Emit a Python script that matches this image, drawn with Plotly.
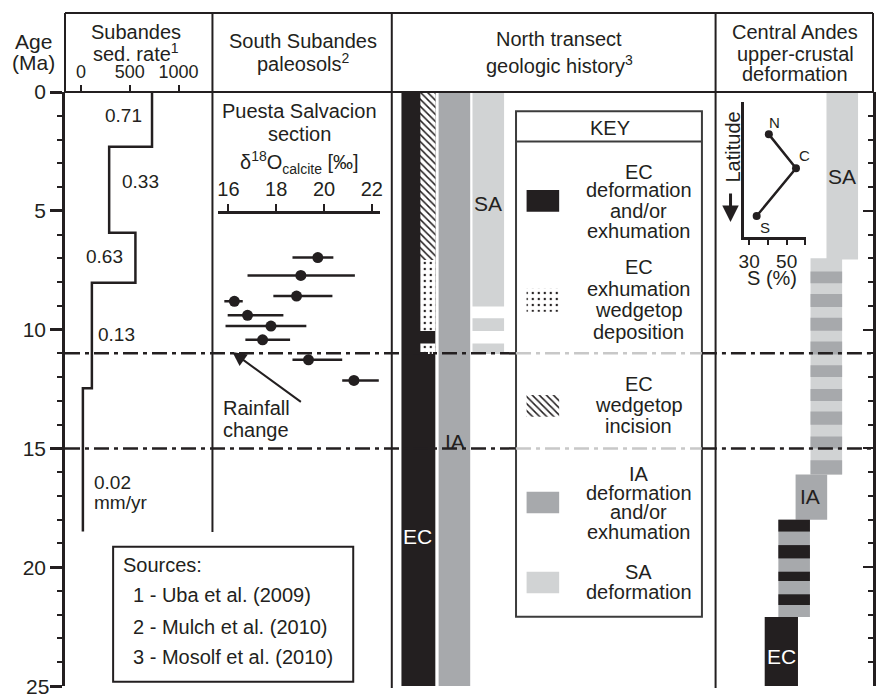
import plotly.graph_objects as go

# ---------------- data ----------------
# Subandes sedimentation rate (m/Myr) over age intervals (Ma)
sed_age_top = [0, 2.3, 5.92, 8.03, 12.47]
sed_age_base = 18.5
sed_rate = [728, 289, 558, 112, 20]
sed_rate_labels = ["0.71", "0.33", "0.63", "0.13", "0.02"]
sed_ticks = [0, 500, 1000]

# South Subandes paleosols, Puesta Salvacion section
d18o_age = [6.97, 7.72, 8.59, 8.81, 9.40, 9.85, 10.43, 11.27, 12.14]
d18o_val = [19.74, 19.03, 18.85, 16.25, 16.80, 17.78, 17.43, 19.35, 21.25]
d18o_err_minus = [1.06, 2.23, 0.97, 0.42, 0.83, 1.90, 0.72, 0.67, 0.49]
d18o_err_plus = [0.65, 2.26, 1.50, 0.35, 1.50, 1.48, 1.15, 1.41, 1.04]
d18o_ticks = [16, 18, 20, 22]

# North transect geologic history (age intervals, Ma)
nt_ec = [(0, 25)]
nt_incision = [(0, 7.07)]
nt_deposition = [(7.07, 10.06), (10.58, 11.03)]
nt_ia = [(0, 25)]
nt_sa = [(0, 9.03), (9.52, 10.06), (10.58, 11.03)]

# Central Andes upper-crustal deformation (age intervals, Ma)
ca_sa = [(0, 7.05)]
ca_sa_ia = [(7.0, 16.1)]
ca_sa_ia_dark = [(7.55, 8.05), (8.5, 9.05), (9.5, 10.05), (10.5, 11.05), (11.5, 12.0),
                 (12.5, 13.0), (13.45, 14.0), (14.5, 15.0), (15.5, 16.1)]
ca_ia = [(16.1, 18.0)]
ca_ec_ia = [(18.0, 22.1)]
ca_ec_ia_dark = [(18.0, 18.5), (19.07, 19.63), (20.19, 20.58), (21.14, 21.59)]
ca_ec = [(22.1, 25)]

# Inset: shortening S (%) vs latitude
inset_sites = ["N", "C", "S"]
inset_s = [40.5, 55, 34]
inset_lat = [0.758, 0.507, 0.153]
inset_ticks = [30, 40, 50, 60]
inset_ticktext = ["30", "", "50", ""]

boundaries = [11, 15]
age_ticks_major = 5
age_max = 25

# ---------------- styling / layout helpers ----------------
DARK = "#231f20"
IA_C = "#a7a9ac"
SA_C = "#d1d3d4"
FONT = "Liberation Sans, Arial, Helvetica, sans-serif"
W, H = 878, 694
L, R, T, B = 65, 876, 92, 686


def X(px):
    return (px - L) / (R - L)


def Y(py):
    return 1 - (py - T) / (B - T)


def AGE(py):
    return (py - T) / (B - T) * age_max


fig = go.Figure()


def bars(intervals, xc, w, color, xaxis, yaxis="y", pattern=None):
    marker = dict(color=color, line=dict(width=0))
    if pattern:
        marker["pattern"] = pattern
    fig.add_trace(go.Bar(
        x=[xc] * len(intervals), y=[b - a for a, b in intervals],
        base=[a for a, b in intervals], width=[w] * len(intervals),
        marker=marker, xaxis=xaxis, yaxis=yaxis, showlegend=False, hoverinfo="skip"))


hatch = dict(shape="\\", fgcolor=DARK, bgcolor="white", size=5, solidity=0.3, fillmode="replace")
dots = dict(shape=".", fgcolor=DARK, bgcolor="white", size=6, solidity=0.12, fillmode="replace")

# panel 3 (x3 units = px offset from 393)
bars(nt_ec, 26.7, 34, DARK, "x3")
bars(nt_incision, 36.2, 15, "white", "x3", pattern=hatch)
bars(nt_deposition, 36.2, 15, "white", "x3", pattern=dots)
bars(nt_ia, 62.85, 31.7, IA_C, "x3")
bars(nt_sa, 96.85, 31.7, SA_C, "x3")

# key swatches (positions in px -> ages)
def sw(py0, py1):
    return [(AGE(py0), AGE(py1))]

bars(sw(190, 211.7), 151.65, 32.7, DARK, "x3")
bars(sw(288.3, 311.7), 151.65, 32.7, "white", "x3", pattern=dots)
bars(sw(395, 416.7), 151.65, 32.7, "white", "x3", pattern=hatch)
bars(sw(491.7, 513.3), 151.65, 32.7, IA_C, "x3")
bars(sw(571.7, 593.3), 151.65, 32.7, SA_C, "x3")

# panel 4 (x4 units = px offset from 718)
bars(ca_sa, 127.15, 31.7, SA_C, "x4", "y2")
bars(ca_sa_ia, 111.15, 31.7, SA_C, "x4", "y2")
bars(ca_sa_ia_dark, 111.15, 31.7, IA_C, "x4", "y2")
bars(ca_ia, 96.15, 31.7, IA_C, "x4", "y2")
bars(ca_ec_ia, 78.85, 31.7, IA_C, "x4", "y2")
bars(ca_ec_ia_dark, 78.85, 31.7, DARK, "x4", "y2")
bars(ca_ec, 66.0, 33.4, DARK, "x4", "y2")

# sed rate step line
fig.add_trace(go.Scatter(
    x=sed_rate + [sed_rate[-1]], y=sed_age_top + [sed_age_base],
    mode="lines", line=dict(color=DARK, width=2.5, shape="vh"),
    xaxis="x", yaxis="y", showlegend=False, hoverinfo="skip", cliponaxis=False))

# d18O points
fig.add_trace(go.Scatter(
    x=d18o_val, y=d18o_age, mode="markers",
    marker=dict(color=DARK, size=11, symbol="circle"),
    error_x=dict(type="data", symmetric=False, array=d18o_err_plus,
                 arrayminus=d18o_err_minus, thickness=2.5, width=0, color=DARK),
    xaxis="x2", yaxis="y", showlegend=False, hoverinfo="skip", cliponaxis=False))

# inset
fig.add_trace(go.Scatter(
    x=inset_s, y=inset_lat, mode="lines+markers",
    line=dict(color=DARK, width=2.5), marker=dict(color=DARK, size=8),
    error_x=dict(type="constant", value=1.5, thickness=2.5, width=0, color=DARK),
    xaxis="x5", yaxis="y3", showlegend=False, hoverinfo="skip", cliponaxis=False))

# ---------------- shapes ----------------
shapes = []


def hline(x0, x1, y, width=2, color=DARK, layer="above"):
    shapes.append(dict(type="line", xref="paper", yref="paper", x0=X(x0), x1=X(x1),
                       y0=Y(y), y1=Y(y), line=dict(color=color, width=width), layer=layer))


def vline(x, y0, y1, width=2, color=DARK, layer="above"):
    shapes.append(dict(type="line", xref="paper", yref="paper", x0=X(x), x1=X(x),
                       y0=Y(y0), y1=Y(y1), line=dict(color=color, width=width), layer=layer))


hline(L, R, 13)
hline(L, R, T)
vline(L, 13, T)
vline(213, 13, 532)
vline(393, 13, 688)
vline(718, 13, 688)
vline(R, 13, T)

# key box
shapes.append(dict(type="rect", xref="paper", yref="paper", x0=X(517.7), x1=X(704.3),
                   y0=Y(616.7), y1=Y(111.3), fillcolor="white",
                   line=dict(color="#3c3c3c", width=2), layer="below"))
hline(517.7, 704.3, 141.5, color="#3c3c3c")

# sources box
shapes.append(dict(type="rect", xref="paper", yref="paper", x0=X(113.3), x1=X(354.3),
                   y0=Y(681.7), y1=Y(546.7), fillcolor="white",
                   line=dict(color=DARK, width=2), layer="below"))

# dash-dot boundaries
dash = "15px,5px,4px,5px"
for b in boundaries:
    for x0, x1, col in [(L, 517.7, DARK), (517.7, 704.3, "#c8c8c8"), (704.3, R, DARK)]:
        shapes.append(dict(type="line", xref="paper", yref="y", x0=X(x0), x1=X(x1),
                           y0=b, y1=b, line=dict(color=col, width=2.5, dash=dash),
                           layer="above"))

# ---------------- annotations ----------------
anns = []


def ann(text, px, py, size=20, color=DARK, xanchor="center", angle=0):
    anns.append(dict(text=text, x=X(px), y=Y(py), xref="paper", yref="paper",
                     showarrow=False, xanchor=xanchor, yanchor="middle",
                     font=dict(family=FONT, size=size, color=color), textangle=angle))


# header
ann("Age", 33, 41, 21)
ann("(Ma)", 33, 63, 21)
ann("Subandes", 136, 32)
ann("sed. rate<sup>1</sup>", 136, 52)
ann("South Subandes", 304, 41)
ann("paleosols<sup>2</sup>", 304, 63)
ann("North transect", 561, 39)
ann("geologic history<sup>3</sup>", 561, 64)
ann("Central Andes", 798, 32)
ann("upper-crustal", 798, 54)
ann("deformation", 798, 74)

# bottom age label (partly cut at the page edge, as in the reference)
anns.append(dict(text=str(age_max), x=X(51), y=age_max, xref="paper", yref="y",
                 showarrow=False, xanchor="right", yanchor="middle",
                 font=dict(family=FONT, size=21, color=DARK)))

# panel 1 labels
for txt, px, py in zip(sed_rate_labels[:4], [124, 141, 105, 117], [115, 181, 256, 334]):
    ann(txt, px, py, 19)
ann(sed_rate_labels[4], 92, 483, 19, xanchor="left")
ann("mm/yr", 92, 502, 19, xanchor="left")

# panel 2 labels
ann("Puesta Salvacion", 300, 111)
ann("section", 300, 134)
ann("δ<sup>18</sup>O<sub>calcite</sub> [‰]", 300, 163)
ann("Rainfall", 222, 408, xanchor="left")
ann("change", 222, 430, xanchor="left")
anns.append(dict(x=X(233), y=Y(352), xref="paper", yref="paper", ax=70, ay=51,
                 showarrow=True, arrowhead=2, arrowsize=1.4, arrowwidth=2,
                 arrowcolor=DARK, text=""))

# panel 3 labels
ann("SA", 490, 203, 21)
ann("IA", 456, 441, 21)
ann("EC", 419, 536, 21, color="white")
ann("KEY", 612, 128)
key_lines = [
    ("EC", 172), ("deformation", 190), ("and/or", 211), ("exhumation", 231),
    ("EC", 267), ("exhumation", 289), ("wedgetop", 310), ("deposition", 332),
    ("EC", 384), ("wedgetop", 405), ("incision", 426),
    ("IA", 474), ("deformation", 493), ("and/or", 512), ("exhumation", 532),
    ("SA", 572), ("deformation", 592),
]
for txt, py in key_lines:
    ann(txt, 641, py)

# sources
ann("Sources:", 121.7, 565, xanchor="left")
ann("1 - Uba et al. (2009)", 131.7, 595, xanchor="left")
ann("2 - Mulch et al. (2010)", 131.7, 627, xanchor="left")
ann("3 - Mosolf et al. (2010)", 131.7, 657, xanchor="left")

# panel 4 labels
ann("SA", 845, 177, 21)
ann("IA", 813, 497, 21)
ann("EC", 784, 656, 21, color="white")
for s, px, py in zip(inset_sites, [777, 807, 768], [122, 156, 227]):
    ann(s, px, py, 15)
ann("Latitude", 735, 147, 20, angle=-90)
anns.append(dict(x=X(733), y=Y(222), xref="paper", yref="paper", ax=0, ay=-30,
                 showarrow=True, arrowhead=2, arrowsize=1.1, arrowwidth=3,
                 arrowcolor=DARK, text=""))
ann("S (%)", 775, 278, 20)

# ---------------- axes ----------------
r_per_px = 1000 / 98.0
axis_common = dict(showgrid=False, zeroline=False)
fig.update_layout(
    width=W, height=H,
    margin=dict(l=L, r=W - R, t=T, b=H - B, pad=0),
    paper_bgcolor="white", plot_bgcolor="white",
    barmode="overlay", showlegend=False,
    font=dict(family=FONT, color=DARK),
    xaxis=dict(domain=[0, X(213)], range=[(L - 81) * r_per_px, (213 - 81) * r_per_px],
               side="top", anchor="y", ticks="outside", ticklen=6, tickwidth=2,
               tickcolor=DARK, tickvals=sed_ticks, tickfont=dict(size=18),
               showline=False, **axis_common),
    xaxis2=dict(domain=[X(219), X(381)], range=[16 - 10 / 24, 16 + 152 / 24],
                side="top", anchor="free", position=Y(212), ticks="outside", ticklen=7,
                tickwidth=2, tickcolor=DARK, tickvals=d18o_ticks, tickfont=dict(size=20),
                showline=True, linewidth=2.5, linecolor=DARK, **axis_common),
    xaxis3=dict(domain=[X(393), X(718)], range=[0, 325], anchor="y", visible=False),
    xaxis4=dict(domain=[X(718), 1], range=[0, 158], anchor="y2", visible=False),
    xaxis5=dict(domain=[X(746.7), X(808.3)], range=[27.34, 60.1], anchor="y3",
                ticks="outside", ticklen=6, tickwidth=2, tickcolor=DARK,
                tickvals=inset_ticks, ticktext=inset_ticktext, tickfont=dict(size=19),
                showline=True, linewidth=2.5, linecolor=DARK, **axis_common),
    yaxis=dict(domain=[0, 1], range=[age_max, 0], anchor="x", side="left",
               showline=True, linewidth=2.5, linecolor=DARK,
               ticks="outside", ticklen=12, tickwidth=2.5, tickcolor=DARK,
               tick0=0, dtick=age_ticks_major, tickfont=dict(size=21),
               minor=dict(dtick=1, ticks="outside", ticklen=5, tickwidth=2, tickcolor=DARK),
               **axis_common),
    yaxis2=dict(domain=[0, 1], range=[age_max, 0], anchor="x4", side="right",
                showline=True, linewidth=2.5, linecolor=DARK,
                ticks="inside", ticklen=10, tickwidth=2, tickcolor=DARK,
                tick0=0, dtick=age_ticks_major, showticklabels=False,
                minor=dict(dtick=1, ticks="inside", ticklen=5, tickwidth=2, tickcolor=DARK),
                **axis_common),
    yaxis3=dict(domain=[Y(236.7), Y(101.7)], range=[0, 1], anchor="x5",
                showline=True, linewidth=2.5, linecolor=DARK, ticks="",
                showticklabels=False, **axis_common),
    shapes=shapes, annotations=anns,
)

fig.write_html("out.html", config={"displayModeBar": False},
               post_script="document.body.style.margin='0px';")
